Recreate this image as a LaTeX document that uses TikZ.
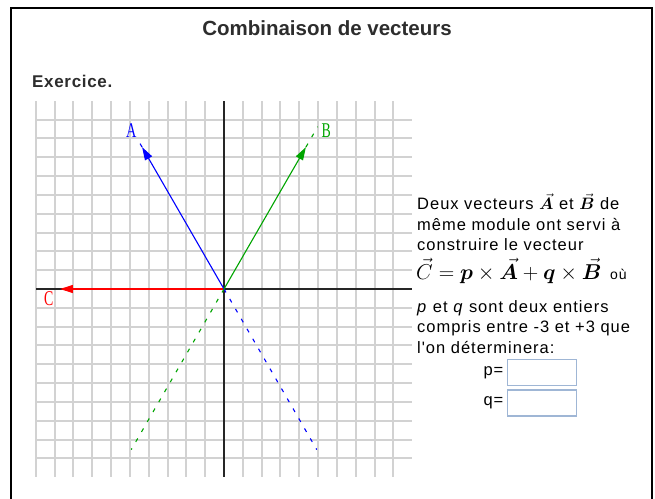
\RequirePackage{fix-cm}
\documentclass[tikz,border=0pt]{standalone}
\usepackage{amsmath,bm}
\usepackage{graphicx}
\usepackage[no-math]{fontspec}
\setmainfont{Liberation Sans}
\newfontfamily\bodyfont[LetterSpace=6]{Liberation Sans}
\newfontfamily\exfont[LetterSpace=4]{Liberation Sans}
\newfontfamily\labfont{Liberation Serif}
\usetikzlibrary{arrows.meta}
\definecolor{gridgray}{RGB}{210,210,210}
\definecolor{vecgreen}{RGB}{0,165,0}
\definecolor{boxblue}{RGB}{159,182,213}
\definecolor{titlegray}{RGB}{45,45,45}
\tikzset{
  gridline/.style={draw=gridgray, line width=2pt},
  axisline/.style={draw=black!85, line width=2pt},
  vecline/.style={line width=1.1pt, -{Triangle[length=13pt,width=8pt]}},
  dashline/.style={line width=1.1pt, dash pattern=on 4pt off 7.5pt},
  txt/.style={anchor=base west, inner sep=0pt, font=\bodyfont\fontsize{16.5}{20}\selectfont},
  lab/.style={inner sep=0pt, font=\labfont\fontsize{21}{24}\selectfont},
  inbox/.style={draw=boxblue, line width=1.3pt, minimum width=69.4pt, minimum height=25.8pt, inner sep=0pt}
}
\begin{document}
\begin{tikzpicture}[x=1pt,y=-1pt]
\useasboundingbox (0,0) rectangle (655,498);
\fill[white] (0,0) rectangle (655,498);
% frame
\draw[line width=2pt] (11,499) -- (11,8) -- (652,8) -- (652,499);
% title and heading
\node[anchor=base, inner sep=0pt, text=titlegray, font=\fontsize{20.5}{24}\selectfont\bfseries] (title) at (327,35) {Combinaison de vecteurs};
\node[anchor=base west, inner sep=0pt, text=titlegray, font=\exfont\fontsize{17}{20}\selectfont\bfseries] (exo) at (32,87.3) {Exercice.};
% grid, snapped to whole pixels
\foreach \i in {-10,...,9} {
  \pgfmathsetmacro\gx{224+round(\i*18.83)}
  \draw[gridline] (\gx,101) -- (\gx,477);
}
\foreach \j in {-9,...,-1,1,2,...,9} {
  \pgfmathsetmacro\gy{289-round(\j*18.83)}
  \draw[gridline] (36,\gy) -- (412,\gy);
}
\draw[axisline] (36,289) -- (412,289);
\draw[axisline] (224,101) -- (224,477);
% vectors
\begin{scope}[shift={(224,289)}, x=18.83pt, y=18.83pt]
  \coordinate (O) at (0,0);
  \coordinate (Atip) at (120:8.7);
  \coordinate (Aend) at (120:9.3);
  \coordinate (Aopp) at (-60:9.85);
  \coordinate (Btip) at (60:8.7);
  \coordinate (Bend) at (60:9.95);
  \coordinate (Bopp) at (240:9.85);
  \coordinate (Ctip) at (-8.71,0);
  \draw[vecline, red] (O) -- (Ctip);
  \draw[dashline, blue] (Atip) -- (Aend);
  \draw[dashline, blue] (O) -- (Aopp);
  \draw[dashline, vecgreen] (Btip) -- (Bend);
  \draw[dashline, vecgreen] (O) -- (Bopp);
  \draw[vecline, blue] (O) -- (Atip);
  \draw[vecline, vecgreen] (O) -- (Btip);
\end{scope}
\node[lab, text=blue] (labA) at (131.3,130.5) {\scalebox{0.68}[1]{A}};
\node[lab, text=vecgreen] (labB) at (326.2,130.5) {\scalebox{0.66}[1]{B}};
\node[lab, text=red] (labC) at (48.7,298.8) {\scalebox{0.66}[1]{C}};
% text
\node[txt] (l1) at (417,209.5) {Deux vecteurs $\vec{\bm{A}}$ et $\vec{\bm{B}}$ de};
\node[txt] (l2) at (417,230) {même module ont servi à};
\node[txt] (l3) at (417,250) {construire le vecteur};
\node[txt] (l4) at (416,279) {\fontsize{21.5}{24}\selectfont$\vec{C}=\bm{p}\times\vec{\bm{A}}+\bm{q}\times\vec{\bm{B}}$};
\node[txt, font=\bodyfont\fontsize{14}{16}\selectfont] (ou) at (610,279) {où};
\node[txt] (l5) at (417,312.7) {\textit{p} et \textit{q} sont deux entiers};
\node[txt] (l6) at (417,332.7) {compris entre -3 et +3 que};
\node[txt] (l7) at (417,353.3) {l'on déterminera:};
\node[txt, anchor=base east] (plab) at (503.5,375.7) {p=};
\node[txt, anchor=base east] (qlab) at (503.5,405.7) {q=};
\node[inbox] (pbox) at (542,372.4) {};
\node[inbox] (qbox) at (542,403) {};
\end{tikzpicture}
\end{document}
